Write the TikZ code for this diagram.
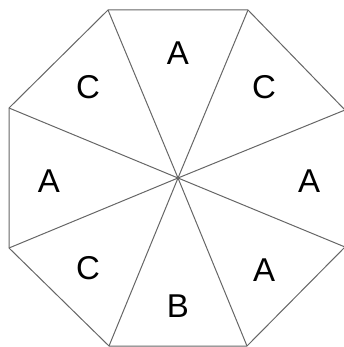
\documentclass[tikz,border=0pt]{standalone}
\usepackage{fontspec}
\setmainfont{Liberation Sans}

\begin{document}
\begin{tikzpicture}[x=1pt,y=-1pt,
      edge/.style={draw=black!60,line width=1pt,line join=miter},
      spoke/.style={draw=black!60,line width=1pt},
      lab/.style={font=\fontsize{33}{33}\selectfont,inner sep=0pt}]
    \useasboundingbox (0,0) rectangle (343,347);
    % corners of the octagon, clockwise from the top left
    \coordinate (o) at (178,178);
    \foreach \n/\x/\y in {1/108/10, 2/248/10, 3/345/110, 4/345/247,
                          5/247/346, 6/109/346, 7/9/248, 8/9/108}{
      \coordinate (v\n) at (\x,\y);}
    \draw[edge] (v1) -- (v2) -- (v3) -- (v4) -- (v5) -- (v6) -- (v7) -- (v8) -- cycle;
    \foreach \n in {1,...,8}{
      \draw[spoke] (o) -- (v\n);}
    % one letter per slice
    \node[lab] (sa) at (178,53) {A};
    \node[lab] (sb) at (264,87) {C};
    \node[lab] (sc) at (309,181) {A};
    \node[lab] (sd) at (264,270) {A};
    \node[lab] (se) at (178,306) {B};
    \node[lab] (sf) at (88,268) {C};
    \node[lab] (sg) at (49,181) {A};
    \node[lab] (sh) at (88,87) {C};
  \end{tikzpicture}
\end{document}
